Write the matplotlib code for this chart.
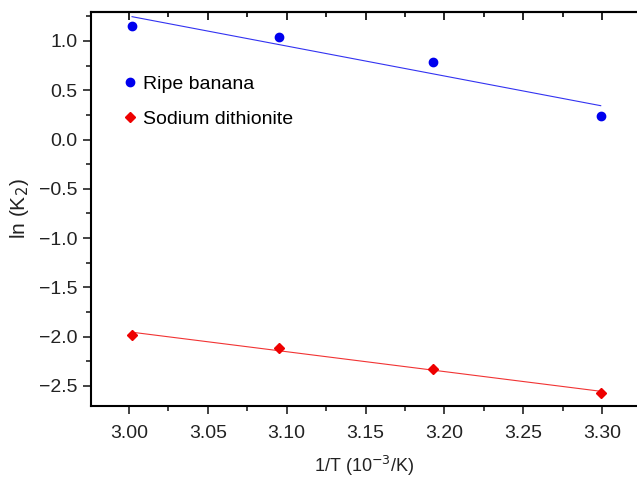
import matplotlib
matplotlib.use('Agg')
import matplotlib.pyplot as plt
import numpy as np
from matplotlib.ticker import MultipleLocator, FuncFormatter

plt.rcParams['font.family'] = ['Liberation Sans', 'DejaVu Sans']

# 1/T values (10^-3 / K)
inv_t = [3.002, 3.095, 3.193, 3.299]
# ln(K2)
banana = [1.15, 1.04, 0.79, 0.24]
dithionite = [-1.98, -2.11, -2.33, -2.57]

fig = plt.figure(figsize=(6.37, 4.8), dpi=100)
ax = fig.add_axes([91/637, 74/480, 1 - 91/637, 394/480])

x = np.array(inv_t)
for ys, col, mk, ms, lab in [(banana, '#0000ee', 'o', 6, 'Ripe banana'),
                             (dithionite, '#ee0000', 'D', 5.5, 'Sodium dithionite')]:
    p = np.polyfit(x, ys, 1)
    ax.plot(x[[0, -1]], np.polyval(p, x[[0, -1]]), color=col, lw=0.8, alpha=0.8)
    ax.plot(x, ys, ls='none', marker=mk, color=col, ms=ms, label=lab)

ax.set_xlim(2.976, 3.322)
ax.set_ylim(-2.703, 1.294)
ax.xaxis.set_major_locator(MultipleLocator(0.05))
ax.xaxis.set_minor_locator(MultipleLocator(0.025))
ax.yaxis.set_major_locator(MultipleLocator(0.5))
ax.yaxis.set_minor_locator(MultipleLocator(0.25))
ax.xaxis.set_major_formatter(FuncFormatter(lambda v, p: f'{v:.2f}'))
ax.yaxis.set_major_formatter(FuncFormatter(lambda v, p: f'{v:.1f}'.replace('-', '\u2212')))

ax.spines['right'].set_visible(False)
for s in ['left', 'bottom', 'top']:
    ax.spines[s].set_linewidth(1.5)
ax.tick_params(which='both', direction='out', width=1.2, labelsize=14, colors='#222222')
ax.tick_params(which='major', length=6)
ax.tick_params(which='minor', length=3.5)
ax.tick_params(axis='x', pad=8)

# ticks on the top spine point inward
top = ax.secondary_xaxis('top')
top.xaxis.set_major_locator(MultipleLocator(0.05))
top.xaxis.set_minor_locator(MultipleLocator(0.025))
top.tick_params(which='both', direction='in', width=1.2, labeltop=False)
top.tick_params(which='major', length=6)
top.tick_params(which='minor', length=3.5)
top.spines['top'].set_linewidth(1.5)

ax.set_xlabel('1/T (10$^{-3}$/K)', fontsize=13, color='#222222', labelpad=8)
ax.set_ylabel('ln (K$_2$)', fontsize=15, color='#222222', labelpad=6)

ax.legend(loc='upper left', bbox_to_anchor=(0.035, 0.86), frameon=False,
          fontsize=14, handletextpad=0.1, handlelength=1.2, labelspacing=0.9,
          borderaxespad=0)

fig.savefig('out.png', dpi=100)
